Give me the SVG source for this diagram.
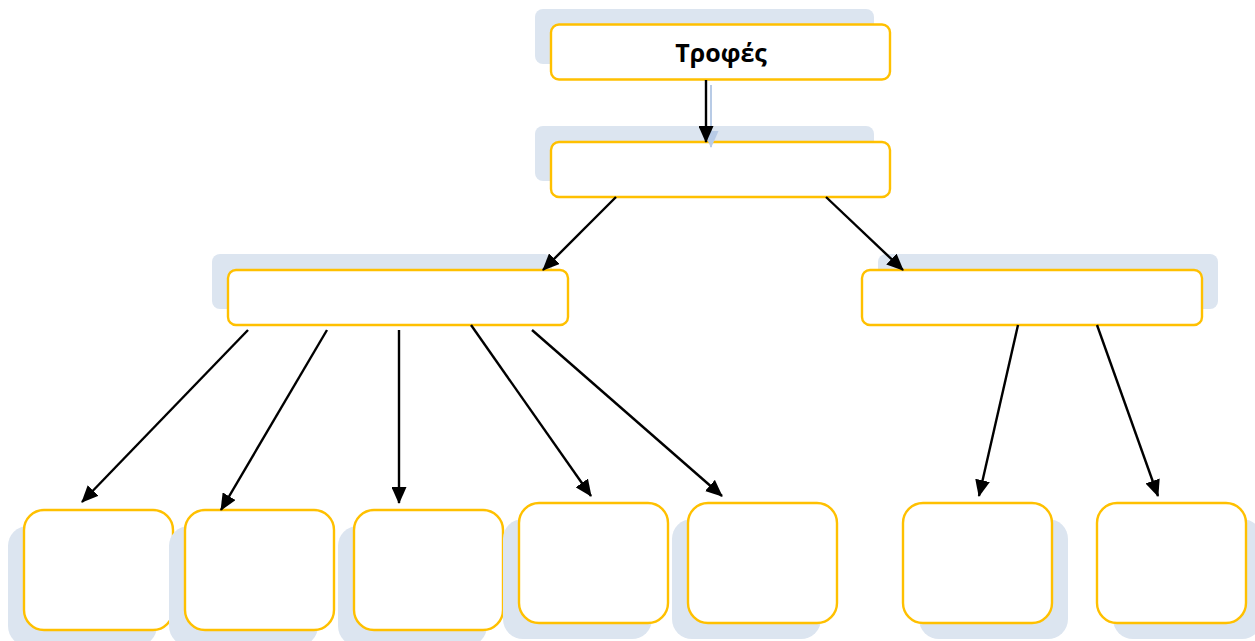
<svg xmlns="http://www.w3.org/2000/svg" width="1255" height="641" viewBox="0 0 1255 641">
<style>
.shadow{fill:#dce5f0;stroke:none}
.box{fill:#ffffff;stroke:#ffc000;stroke-width:2.4}
.conn{stroke:#000000;stroke-width:2.4;fill:none;marker-end:url(#arr)}
.ghost{stroke:#b8cbe6;stroke-width:2;fill:none;marker-end:url(#arrg)}
.label{font-family:"Open Sans","DejaVu Sans",sans-serif;font-weight:bold;font-size:25px;fill:#000000}
</style>
<defs>
<marker id="arr" markerUnits="userSpaceOnUse" markerWidth="17" markerHeight="15" refX="16" refY="7.5" orient="auto">
<path d="M0,0 L17,7.5 L0,15 z" fill="#000000"/>
</marker>
<marker id="arrg" markerUnits="userSpaceOnUse" markerWidth="17" markerHeight="15" refX="16" refY="7.5" orient="auto">
<path d="M0,0 L17,7.5 L0,15 z" fill="#b8cbe6"/>
</marker>
</defs>
<rect width="1255" height="641" fill="#ffffff"/>

<g id="node-trofes">
<rect class="shadow" x="535" y="9" width="339" height="55" rx="8"/>
<rect class="box" x="551" y="24.5" width="339" height="55" rx="8"/>
<text class="label" x="721" y="62" text-anchor="middle">Τροφές</text>
</g>
<g id="node-level1">
<rect class="shadow" x="535" y="126" width="339" height="55" rx="8"/>
<rect class="box" x="551" y="142" width="339" height="55" rx="8"/>
</g>
<g id="node-left">
<rect class="shadow" x="212" y="254" width="340" height="55" rx="8"/>
<rect class="box" x="228" y="270" width="340" height="55" rx="8"/>
</g>
<g id="node-right">
<rect class="shadow" x="878" y="254" width="340" height="55" rx="8"/>
<rect class="box" x="862" y="270" width="340" height="55" rx="8"/>
</g>
<g id="node-b1">
<rect class="shadow" x="8" y="526" width="149" height="120" rx="20"/>
<rect class="box" x="24" y="510" width="149" height="120" rx="20"/>
</g>
<g id="node-b2">
<rect class="shadow" x="169" y="526" width="149" height="120" rx="20"/>
<rect class="box" x="185" y="510" width="149" height="120" rx="20"/>
</g>
<g id="node-b3">
<rect class="shadow" x="338" y="526" width="149" height="120" rx="20"/>
<rect class="box" x="354" y="510" width="149" height="120" rx="20"/>
</g>
<g id="node-b4">
<rect class="shadow" x="503" y="519" width="149" height="120" rx="20"/>
<rect class="box" x="519" y="503" width="149" height="120" rx="20"/>
</g>
<g id="node-b5">
<rect class="shadow" x="672" y="519" width="149" height="120" rx="20"/>
<rect class="box" x="688" y="503" width="149" height="120" rx="20"/>
</g>
<g id="node-b6">
<rect class="shadow" x="919" y="519" width="149" height="120" rx="20"/>
<rect class="box" x="903" y="503" width="149" height="120" rx="20"/>
</g>
<g id="node-b7">
<rect class="shadow" x="1113" y="519" width="149" height="120" rx="20"/>
<rect class="box" x="1097" y="503" width="149" height="120" rx="20"/>
</g>

<g id="connectors">
<line class="ghost" x1="711" y1="85" x2="711" y2="147"/>
<line class="conn" x1="706" y1="80" x2="706" y2="142"/>
<line class="conn" x1="616" y1="197" x2="543" y2="270"/>
<line class="conn" x1="826" y1="197" x2="903" y2="270"/>
<line class="conn" x1="248" y1="330" x2="82" y2="502"/>
<line class="conn" x1="327" y1="330" x2="221" y2="510"/>
<line class="conn" x1="399" y1="330" x2="399" y2="503"/>
<line class="conn" x1="471" y1="325" x2="591" y2="496"/>
<line class="conn" x1="532" y1="330" x2="722" y2="496"/>
<line class="conn" x1="1018" y1="325" x2="979" y2="496"/>
<line class="conn" x1="1097" y1="325" x2="1158" y2="496"/>
</g>
</svg>
